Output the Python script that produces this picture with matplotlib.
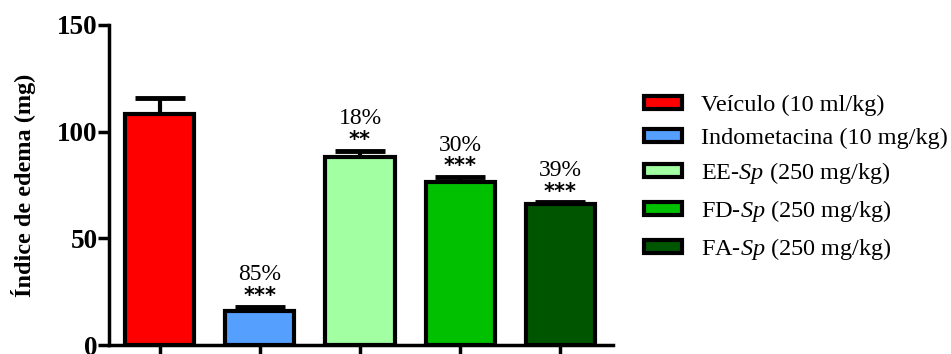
import matplotlib
matplotlib.use("Agg")
import matplotlib.pyplot as plt
from matplotlib.patches import Patch

# Edema index per treatment group (mean + SEM)
groups = ["Veículo (10 ml/kg)", "Indometacina (10 mg/kg)",
          "EE-$\\mathit{Sp}$ (250 mg/kg)", "FD-$\\mathit{Sp}$ (250 mg/kg)",
          "FA-$\\mathit{Sp}$ (250 mg/kg)"]
means = [108.3, 16.0, 88.3, 76.2, 66.1]
sems = [7.5, 2.0, 2.8, 2.5, 0.7]
inhibition = [None, "85%", "18%", "30%", "39%"]
stars = [None, "***", "**", "***", "***"]
colors = ["#FF0000", "#559FFF", "#A2FFA2", "#00C000", "#005500"]

plt.rcParams["font.family"] = "Liberation Serif"
plt.rcParams["mathtext.fontset"] = "custom"
plt.rcParams["mathtext.rm"] = "Liberation Serif"
plt.rcParams["mathtext.it"] = "Liberation Serif:italic"

fig = plt.figure(figsize=(9.51, 3.54), dpi=100)
ax = fig.add_axes([0.1146, 0.0254, 0.53, 0.904])

x = list(range(len(means)))
ax.bar(x, means, width=0.69, color=colors, edgecolor="black", linewidth=3, zorder=3)
ax.errorbar(x, means, yerr=[[0] * len(sems), sems], fmt="none", ecolor="black",
            elinewidth=3, capsize=18, capthick=3.5, zorder=2)

for xi, m, s, pct, st in zip(x, means, sems, inhibition, stars):
    if pct is None:
        continue
    top = m + s
    ax.text(xi, top + 5, st, ha="center", va="center", fontsize=15,
            fontweight="bold", family="DejaVu Sans")
    ax.text(xi, top + 15, pct, ha="center", va="center", fontsize=17)

ax.set_xlim(-0.51, 4.53)
ax.set_ylim(0, 150)
ax.set_yticks([0, 50, 100, 150])
ax.set_xticks(x)
ax.set_xticklabels([])
ax.tick_params(axis="y", length=8, width=2.5, labelsize=19.5, pad=0)
ax.tick_params(axis="x", length=8, width=2.5)
for lbl in ax.get_yticklabels():
    lbl.set_fontweight("bold")
ax.spines["top"].set_visible(False)
ax.spines["right"].set_visible(False)
ax.spines["left"].set_linewidth(2.5)
ax.spines["bottom"].set_linewidth(2.5)
ax.set_ylabel("Índice de edema (mg)", fontsize=17.5, fontweight="bold", labelpad=15)

handles = [Patch(facecolor=c, edgecolor="black", linewidth=3) for c in colors]
fig.legend(handles, groups, loc="upper left", bbox_to_anchor=(0.667, 0.76),
           frameon=False, fontsize=17.5, handlelength=1.55, handleheight=0.45,
           labelspacing=0.48, handletextpad=0.8, borderaxespad=0)

fig.savefig("out.png", dpi=100)
